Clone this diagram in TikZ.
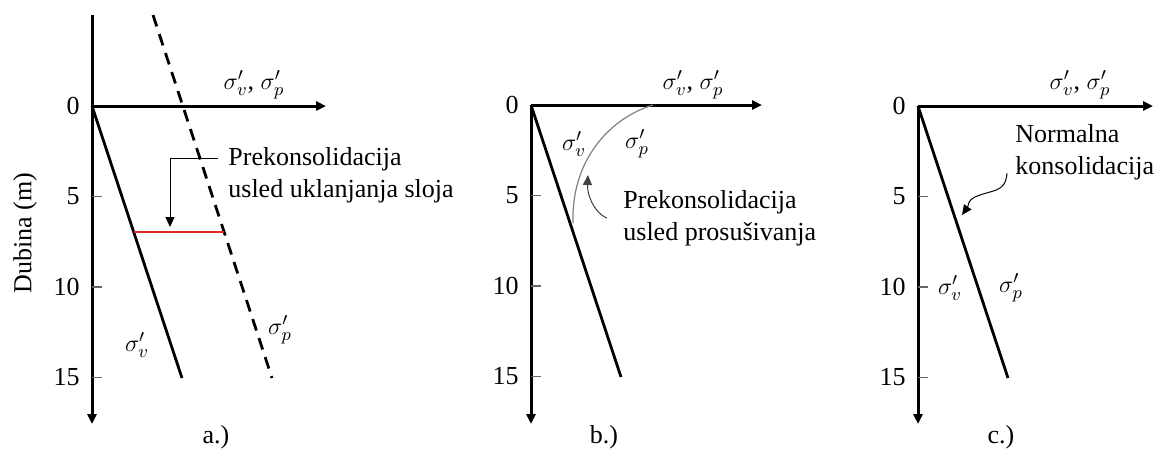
\documentclass[tikz,border=0pt]{standalone}
\usepackage{fontspec}
\setmainfont{Liberation Serif}
\usetikzlibrary{arrows.meta, positioning, calc}
\definecolor{redln}{RGB}{222,40,40}
\tikzset{
  ax/.style  ={line width=1.5pt, -{Triangle[length=5pt, width=4.5pt]}},
  prf/.style ={line width=1.4pt},
  tck/.style ={line width=0.6pt, draw=black!60},
  num/.style ={anchor=east, inner sep=0pt, font=\fontsize{13}{16}\selectfont},
  sg/.style  ={inner sep=0pt, font=\fontsize{13}{16}\selectfont},
  ann/.style ={line width=0.5pt, -{Triangle[length=5pt, width=4.5pt]}},
  txt/.style ={anchor=north west, align=left, inner sep=0pt, font=\fontsize{13}{16}\selectfont},
}

\begin{document}
\begin{tikzpicture}[x=0.5pt, y=-0.5pt]
  \useasboundingbox (0,0) rectangle (1156,473);
  \foreach \x/\y/\e in {92/106/326, 531/105/762, 918/106/1153} {
    \draw[ax] (\x,\y) -- (\e,\y);
    \draw[ax] (\x,\y) -- (\x,424);
    \foreach \d in {5,10,15}
      \draw[tck] (\x,\y+18.1*\d) -- ++(10,0);
    \foreach \d in {0,5,10,15}
      \node[num] at (\x-12,\y+18.1*\d) {\d};
    \draw[prf] (\x,\y) -- (\x+90,\y+272);
    \node[sg] at (\x+162,85) {$\sigma'_v$, $\sigma'_p$};
  }
  \draw[line width=1.5pt] (92,15) -- (92,107);
  \node[rotate=90, sg] (dub) at (25,233) {Dubina (m)};

  \draw[prf, dash pattern=on 6pt off 4pt] (153,15) -- (272,378);
  \draw[redln, line width=0.6pt] (133.7,232) -- (224.1,232);
  \node[sg] (sva) at (137,345) {$\sigma'_v$};
  \node[sg] (spa) at (280,330) {$\sigma'_p$};
  \node[txt] (pka) at (228,147) {Prekonsolidacija\\usled uklanjanja sloja};
  \coordinate (ra) at (170,227);
  \draw[ann] ($(pka.north west)+(-10,11)$) -| (ra);
  \node[sg] (capa) at (216,437) {a.)};

  \draw[gray, line width=0.6pt] (573,223) .. controls (571,160) and (610,118) .. (653,105);
  \node[sg] (svb) at (574,144) {$\sigma'_v$};
  \node[sg] (spb) at (637,144) {$\sigma'_p$};
  \node[txt] (pkb) at (623,190) {Prekonsolidacija\\usled prosušivanja};
  \coordinate (cb) at (588,175);
  \draw[ann, draw=black!75] ($(pkb.west)+(-16,0)$) .. controls +(-14,-6) and +(-1,18) .. (cb);
  \node[sg] (capb) at (604,437) {b.)};

  \node[sg] (svc) at (950,288) {$\sigma'_v$};
  \node[sg] (spc) at (1011,288) {$\sigma'_p$};
  \node[txt] (nkc) at (1015,124) {Normalna\\konsolidacija};
  \coordinate (cc) at (962,215);
  \draw[ann] ($(nkc.south west)+(-8,-7)$) .. controls +(-2,20) and +(18,-8) .. (975,197)
    .. controls +(-8,4) and +(7,-10) .. (cc);
  \node[sg] (capc) at (1001,437) {c.)};
\end{tikzpicture}
\end{document}
